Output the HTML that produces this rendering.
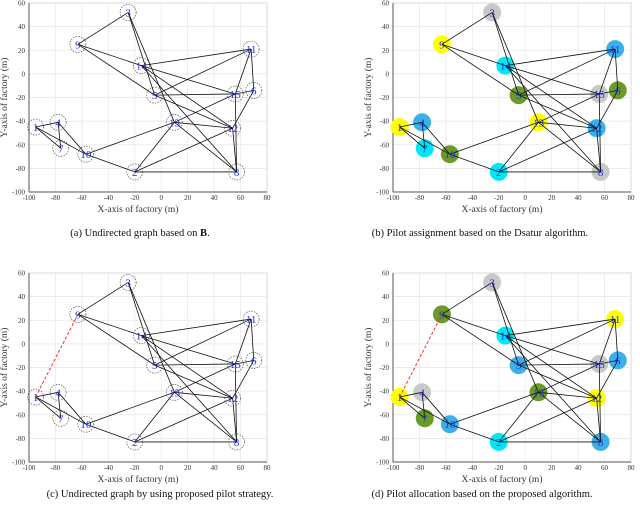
<!DOCTYPE html>
<html><head><meta charset="utf-8"><style>
body{margin:0;background:#fff;width:640px;height:509px;overflow:hidden}
svg{display:block;font-family:"Liberation Serif",serif}
</style></head><body>
<svg id="fig" width="640" height="509"></svg>
<script>
const nodeIds=[1,2,3,4,5,6,7,8,9,10,11,12,13,14,15];
const nodeX=[-95,-20,-25,-78,-5,70,-76,57,-63,-57,68,54,10,-15,56];
const nodeY=[-45,-83,52,-41,-18,-14,-63,-83,25,-68,21,-46,-41,7,-17];
const edges=[[3,9],[3,5],[3,13],[9,14],[9,5],[14,11],[14,15],[14,12],[14,8],[5,15],[5,11],[5,12],[13,15],[13,12],[13,10],[13,2],[13,8],[11,15],[11,6],[6,15],[6,12],[12,2],[12,8],[15,8],[1,4],[1,7],[1,10],[4,7],[4,10],[10,2],[2,8]];
const colorsB=['y','c','g','b','g','g','c','g','y','g','b','b','y','c','g'];
const colorsBfix=['y','c','gr','b','g','g','c','gr','y','g','lb','b','y','c','gr'];
const colorsD=['y','c','gr','gr','lb','lb','g','lb','g','lb','y','y','g','c','gr'];
const xTicks=[-100,-80,-60,-40,-20,0,20,40,60,80];
const yTicks=[60,40,20,0,-20,-40,-60,-80,-100];
const palette={y:'#ffff00',c:'#00e8f8',b:'#3bb0e8',lb:'#3bb0e8',g:'#6a9a28',gr:'#c8c8c8'};
const svg=document.getElementById('fig');
const NS='http://www.w3.org/2000/svg';
function mk(t,a,p){const e=document.createElementNS(NS,t);for(const k in a)e.setAttribute(k,a[k]);(p||svg).appendChild(e);return e;}
const panels=[
 {id:'a',L:29,T:3,col:null,dash:false,cap:'(a) Undirected graph based on ',bold:'B',capx:140,capy:236},
 {id:'b',L:393,T:3,col:colorsBfix,dash:false,cap:'(b) Pilot assignment based on the Dsatur algorithm.',capx:480,capy:236},
 {id:'c',L:29,T:273,col:null,dash:true,cap:'(c) Undirected graph by using proposed pilot strategy.',capx:160,capy:497},
 {id:'d',L:393,T:273,col:colorsD,dash:true,cap:'(d) Pilot allocation based on the proposed algorithm.',capx:482,capy:497}];
panels.forEach(P=>{
 const g=mk('g',{});
 
 
 const W=238,H=189;
 const sx=v=>P.L+(v+100)/180*W, sy=v=>P.T+(60-v)/160*H;
 mk('rect',{x:P.L,y:P.T,width:W,height:H,fill:'#fff',stroke:'#bbb','stroke-width':1},g);
 xTicks.forEach(t=>{mk('line',{x1:sx(t),x2:sx(t),y1:P.T,y2:P.T+H,stroke:'#e6e6e6','stroke-width':0.7},g);
  const tx=mk('text',{x:sx(t),y:P.T+H+8,'font-size':7,'text-anchor':'middle',fill:'#333'},g);tx.textContent=t;});
 yTicks.forEach(t=>{mk('line',{x1:P.L,x2:P.L+W,y1:sy(t),y2:sy(t),stroke:'#e6e6e6','stroke-width':0.7},g);
  const tx=mk('text',{x:P.L-4,y:sy(t)+2.5,'font-size':7,'text-anchor':'end',fill:'#333'},g);tx.textContent=t;});
 mk('line',{x1:P.L,x2:P.L,y1:P.T,y2:P.T+H,stroke:'#555','stroke-width':1},g);
 mk('line',{x1:P.L,x2:P.L+W,y1:P.T+H,y2:P.T+H,stroke:'#555','stroke-width':1},g);
 const xt=mk('text',{x:P.L+W/2-10,y:P.T+H+20,'font-size':9.5,'text-anchor':'middle',fill:'#333'},g);xt.textContent='X-axis of factory (m)';
 
 const yx=P.L-22,yy=P.T+H/2;
 const yt=mk('text',{x:yx,y:yy,'font-size':9.5,'text-anchor':'middle',fill:'#333',transform:`rotate(-90 ${yx} ${yy})`},g);yt.textContent='Y-axis of factory (m)';
 
 const pos=id=>{const i=nodeIds.indexOf(id);return [sx(nodeX[i]),sy(nodeY[i])];};
 if(P.col){nodeIds.forEach((id,i)=>{const c=mk('circle',{cx:sx(nodeX[i]),cy:sy(nodeY[i]),r:9,fill:palette[P.col[i]]},g);
  });}
 edges.forEach(e=>{const a=pos(e[0]),b=pos(e[1]);const l=mk('line',{x1:a[0],y1:a[1],x2:b[0],y2:b[1],stroke:'#111','stroke-width':0.8},g);
  });
 if(P.dash){const a=pos(9),b=pos(1);const l=mk('line',{x1:a[0],y1:a[1],x2:b[0],y2:b[1],stroke:'#f03030','stroke-width':1,'stroke-dasharray':'3,2'},g);
  }
 nodeIds.forEach((id,i)=>{const x=sx(nodeX[i]),y=sy(nodeY[i]);
  if(!P.col){const c=mk('circle',{cx:x,cy:y,r:8,fill:'none',stroke:'#555','stroke-width':0.7,'stroke-dasharray':'1.5,1.2'},g);
   }
  const t=mk('text',{x:x,y:y+4,'font-size':11,'text-anchor':'middle',fill:'#2030e0'},g);t.textContent=id;
  });
 const cp=mk('text',{x:P.capx,y:P.capy,'font-size':10.5,'text-anchor':'middle',fill:'#111'},g);cp.textContent=P.cap;
 if(P.bold){const s=mk('tspan',{'font-weight':'bold'},cp);s.textContent=P.bold;const s2=mk('tspan',{},cp);s2.textContent='.';}
 
});
</script>
</body></html>
